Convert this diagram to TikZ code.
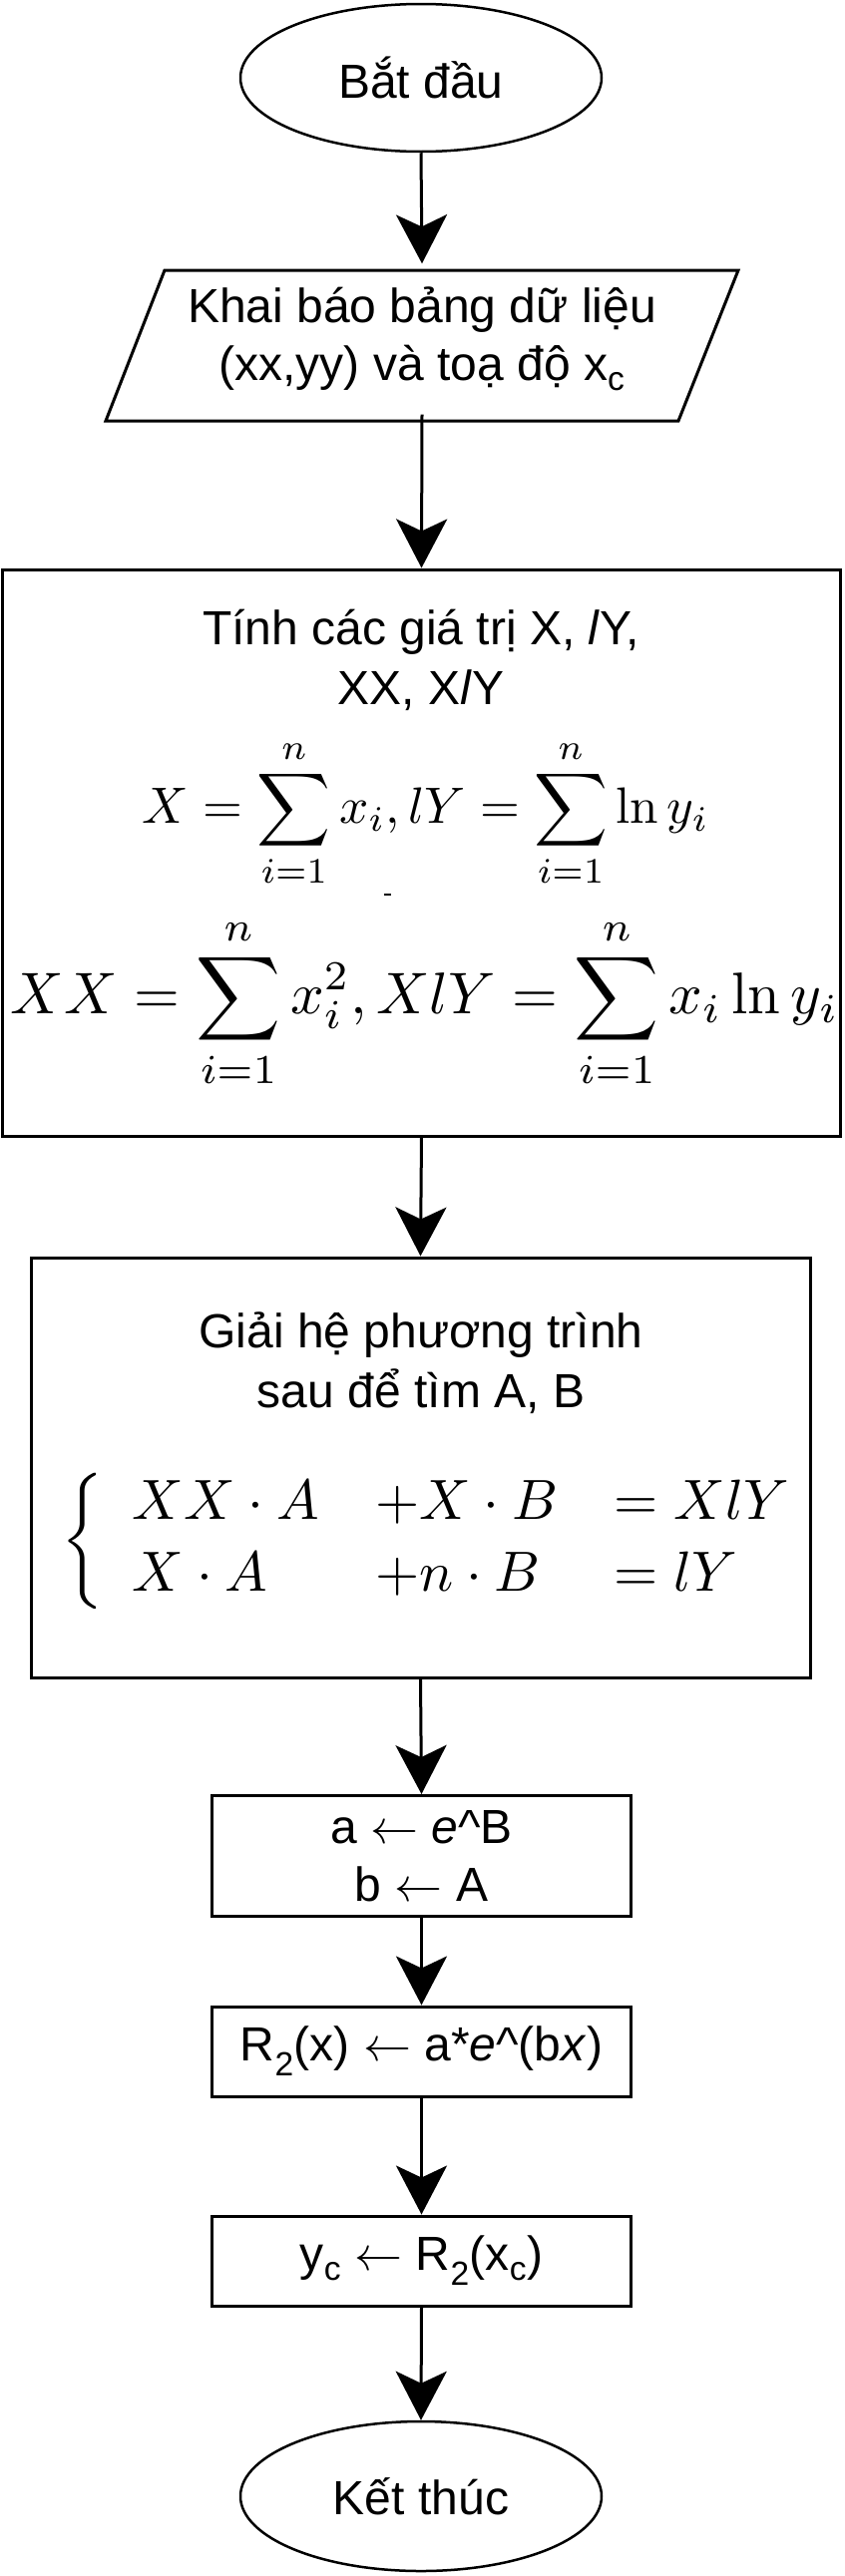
\documentclass[tikz,border=0pt]{standalone}
\usepackage[no-math]{fontspec}
\setmainfont{Liberation Sans}
\usepackage{graphicx}
\usetikzlibrary{arrows.meta,shapes.geometric}
\newcommand{\larr}{\resizebox{1em}{!}{\normalsize$\leftarrow$}}
\tikzset{
  conn/.style={line width=3pt, -{Stealth[length=49pt,width=51pt,inset=12pt]}},
  boxstyle/.style={draw, line width=3pt, rectangle, inner sep=0pt},
  term/.style={draw, line width=2.5pt, ellipse, inner sep=0pt},
  txt/.style={font=\fontsize{48}{58}\selectfont, align=center},
  plain/.style={inner sep=0pt},
}
\begin{document}
\begin{tikzpicture}[x=1pt,y=-1pt]
\useasboundingbox (0,0) rectangle (846,2583);

% start
\node[term, minimum width=362pt, minimum height=148pt, txt] (start) at (422,78) {Bắt đầu};

% input parallelogram
\draw[line width=3pt, line join=miter] (165,271) -- (740,271) -- (680,422) -- (106,422) -- cycle;
\node[txt, minimum width=500pt, minimum height=151pt, inner sep=0pt] (io) at (423,340)
  {Khai báo bảng dữ liệu\\(xx,yy) và toạ độ x\textsubscript{c}};

% box 1
\node[boxstyle, minimum width=840pt, minimum height=568pt] (calc) at (422.5,855) {};
\node[txt, anchor=base] (t1a) at (422,646) {Tính các giá trị X, \textit{l}Y,};
\node[txt, anchor=base] (t1b) at (422,706) {XX, X\textit{l}Y};
\node[plain] (m1) at (427,816)
  {\resizebox{568pt}{!}{$\displaystyle X=\sum_{i=1}^{n}x_i, lY=\sum_{i=1}^{n}\ln y_i$}};
\draw[line width=1.5pt] (385,897) -- (392,897);
\node[plain] (m2) at (426,1006)
  {\resizebox{830pt}{!}{$\displaystyle XX=\sum_{i=1}^{n}x_i^2, XlY=\sum_{i=1}^{n}x_i\ln y_i$}};

% box 2
\node[boxstyle, minimum width=781pt, minimum height=421pt] (solve) at (421.5,1471.5) {};
\node[txt, anchor=base] (t2a) at (422,1351) {Giải hệ phương trình};
\node[txt, anchor=base] (t2b) at (422,1411) {sau để tìm A, B};
\node[plain] (sys) at (426.5,1545)
  {\resizebox{729pt}{!}{\renewcommand{\arraystretch}{1.05}$\left\{\begin{array}{lll@{}} XX\cdot A & +X\cdot B & =XlY\\ X\cdot A & +n\cdot B & =lY\end{array}\right.\kern-\nulldelimiterspace$}};

% lower boxes
\node[boxstyle, minimum width=420pt, minimum height=121pt, txt] (ab) at (422.5,1861)
  {a \larr{} \textit{e}\textasciicircum B\\b \larr{} A};
\node[boxstyle, minimum width=420pt, minimum height=90pt, txt] (r2) at (422.5,2057)
  {R\textsubscript{2}(x) \larr{} a*\textit{e}\textasciicircum(b\textit{x})};
\node[boxstyle, minimum width=420pt, minimum height=90pt, txt] (yc) at (422.5,2267)
  {y\textsubscript{c} \larr{} R\textsubscript{2}(x\textsubscript{c})};

% end
\node[term, minimum width=362pt, minimum height=150pt, txt] (end) at (422,2503) {Kết thúc};

% connectors
\draw[conn] (start.south) -- (io.north);
\draw[conn] (io.south) -- (calc.north);
\draw[conn] (calc.south) -- (solve.north);
\draw[conn] (solve.south) -- (ab.north);
\draw[conn] (ab.south) -- (r2.north);
\draw[conn] (r2.south) -- (yc.north);
\draw[conn] (yc.south) -- (end.north);
\end{tikzpicture}
\end{document}
